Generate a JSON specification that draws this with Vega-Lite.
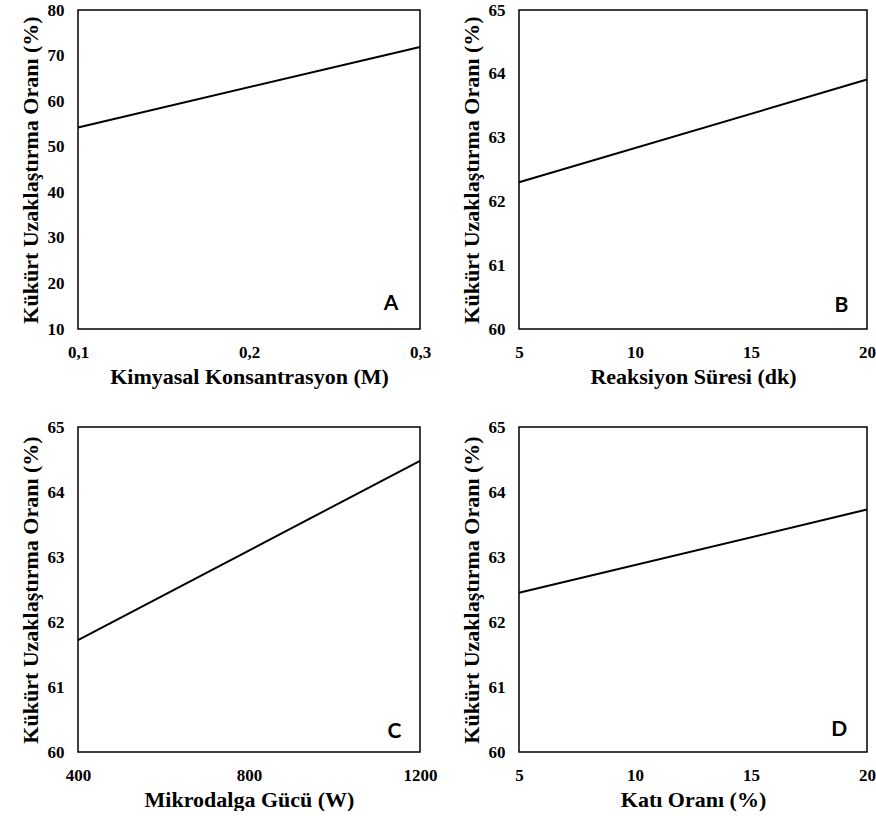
{
  "$schema": "https://vega.github.io/schema/vega-lite/v6.json",
  "background": "white",
  "padding": {"left": 18, "top": 0, "right": 0, "bottom": 0},
  "datasets": {
    "A": [{"x": 0.1, "y": 54.2}, {"x": 0.3, "y": 71.9}],
    "B": [{"x": 5, "y": 62.3}, {"x": 20, "y": 63.91}],
    "C": [{"x": 400, "y": 61.72}, {"x": 1200, "y": 64.48}],
    "D": [{"x": 5, "y": 62.45}, {"x": 20, "y": 63.73}]
  },
  "columns": 2,
  "spacing": {"row": 98, "column": 99},
  "bounds": "flush",
  "concat": [
    {
      "width": 342, "height": 319,
      "layer": [
        {
          "data": {"name": "A"},
          "mark": {"type": "line", "color": "black", "strokeWidth": 2},
          "encoding": {
            "x": {"field": "x", "type": "quantitative", "scale": {"domain": [0.1, 0.3], "nice": false, "zero": false},
              "axis": {"values": [0.1, 0.2, 0.3], "labelExpr": "replace(format(datum.value, '.1f'), '.', ',')", "title": "Kimyasal Konsantrasyon (M)"}},
            "y": {"field": "y", "type": "quantitative", "scale": {"domain": [10, 80], "nice": false, "zero": false},
              "axis": {"values": [10, 20, 30, 40, 50, 60, 70, 80], "format": "d", "title": "Kükürt Uzaklaştırma Oranı (%)"}}
          }
        },
        {
          "data": {"values": [{"panel": "A"}]},
          "mark": {"type": "text", "font": "Lato", "fontWeight": "bold", "fontSize": 21, "color": "black"},
          "encoding": {"x": {"datum": 0.283}, "y": {"datum": 15.5}, "text": {"field": "panel"}}
        }
      ]
    },
    {
      "width": 348, "height": 319,
      "layer": [
        {
          "data": {"name": "B"},
          "mark": {"type": "line", "color": "black", "strokeWidth": 2},
          "encoding": {
            "x": {"field": "x", "type": "quantitative", "scale": {"domain": [5, 20], "nice": false, "zero": false},
              "axis": {"values": [5, 10, 15, 20], "format": "d", "title": "Reaksiyon Süresi (dk)"}},
            "y": {"field": "y", "type": "quantitative", "scale": {"domain": [60, 65], "nice": false, "zero": false},
              "axis": {"values": [60, 61, 62, 63, 64, 65], "format": "d", "title": "Kükürt Uzaklaştırma Oranı (%)"}}
          }
        },
        {
          "data": {"values": [{"panel": "B"}]},
          "mark": {"type": "text", "font": "Lato", "fontWeight": "bold", "fontSize": 21, "color": "black"},
          "encoding": {"x": {"datum": 18.9}, "y": {"datum": 60.36}, "text": {"field": "panel"}}
        }
      ]
    },
    {
      "width": 342, "height": 325,
      "layer": [
        {
          "data": {"name": "C"},
          "mark": {"type": "line", "color": "black", "strokeWidth": 2},
          "encoding": {
            "x": {"field": "x", "type": "quantitative", "scale": {"domain": [400, 1200], "nice": false, "zero": false},
              "axis": {"values": [400, 800, 1200], "format": "d", "title": "Mikrodalga Gücü (W)"}},
            "y": {"field": "y", "type": "quantitative", "scale": {"domain": [60, 65], "nice": false, "zero": false},
              "axis": {"values": [60, 61, 62, 63, 64, 65], "format": "d", "title": "Kükürt Uzaklaştırma Oranı (%)"}}
          }
        },
        {
          "data": {"values": [{"panel": "C"}]},
          "mark": {"type": "text", "font": "Lato", "fontWeight": "bold", "fontSize": 21, "color": "black"},
          "encoding": {"x": {"datum": 1140}, "y": {"datum": 60.31}, "text": {"field": "panel"}}
        }
      ]
    },
    {
      "width": 348, "height": 325,
      "layer": [
        {
          "data": {"name": "D"},
          "mark": {"type": "line", "color": "black", "strokeWidth": 2},
          "encoding": {
            "x": {"field": "x", "type": "quantitative", "scale": {"domain": [5, 20], "nice": false, "zero": false},
              "axis": {"values": [5, 10, 15, 20], "format": "d", "title": "Katı Oranı (%)"}},
            "y": {"field": "y", "type": "quantitative", "scale": {"domain": [60, 65], "nice": false, "zero": false},
              "axis": {"values": [60, 61, 62, 63, 64, 65], "format": "d", "title": "Kükürt Uzaklaştırma Oranı (%)"}}
          }
        },
        {
          "data": {"values": [{"panel": "D"}]},
          "mark": {"type": "text", "font": "Lato", "fontWeight": "bold", "fontSize": 21, "color": "black"},
          "encoding": {"x": {"datum": 18.8}, "y": {"datum": 60.34}, "text": {"field": "panel"}}
        }
      ]
    }
  ],
  "config": {
    "view": {"stroke": "black", "strokeWidth": 1.5},
    "axis": {
      "grid": false, "domain": false, "ticks": false, "tickSize": 0,
      "labelFont": "Liberation Serif", "labelFontWeight": "bold", "labelFontSize": 17, "labelColor": "black",
      "labelFlush": false, "labelOverlap": false,
      "titleFont": "Liberation Serif", "titleFontWeight": "bold", "titleColor": "black"
    },
    "axisX": {"labelPadding": 15, "titlePadding": 6, "titleFontSize": 22},
    "axisY": {"labelPadding": 14, "titlePadding": 5, "titleFontSize": 22}
  }
}
